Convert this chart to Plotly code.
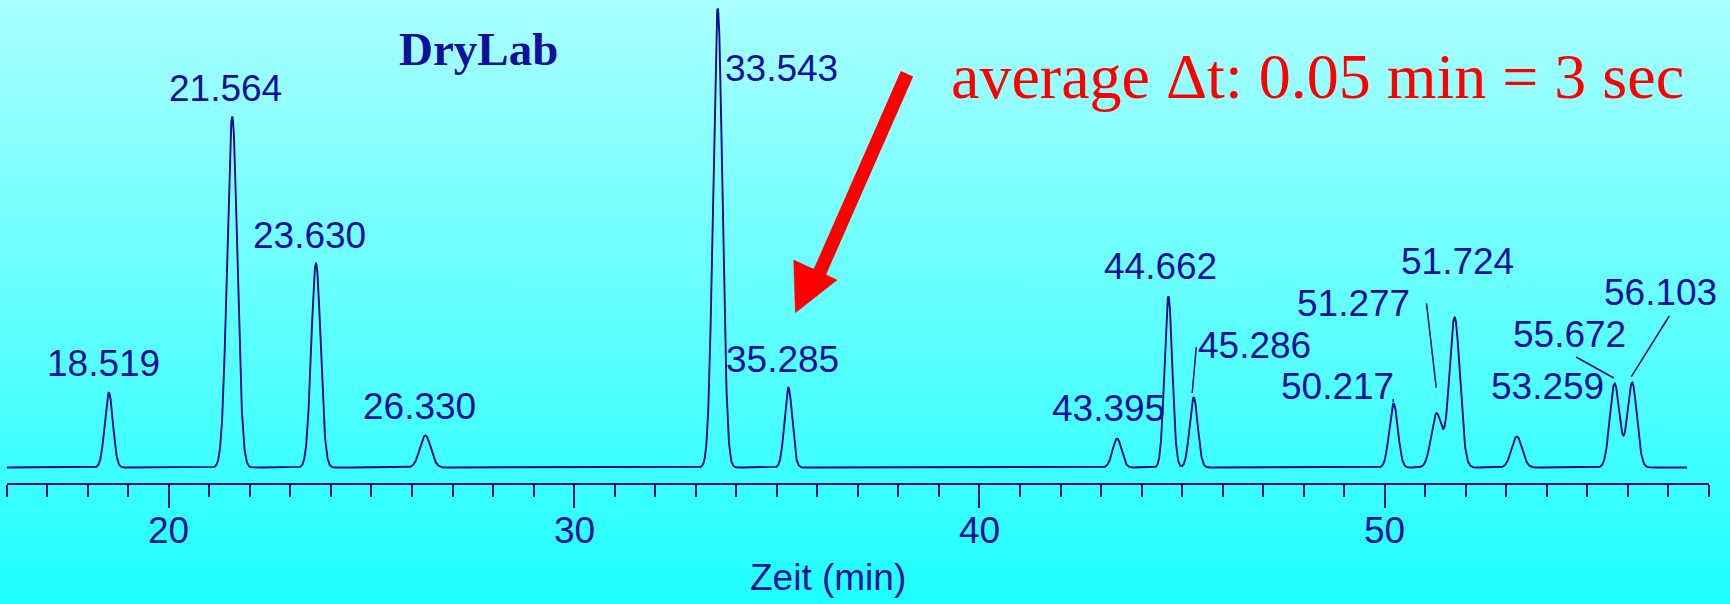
import base64
import numpy as np
import plotly.graph_objects as go

# Peak table of the simulated chromatogram (retention time in min, height, gaussian sigma in min)
retention_times = [18.519, 21.564, 23.630, 26.330, 33.543, 35.285, 43.395, 44.662,
                   45.286, 50.217, 51.277, 51.724, 53.259, 55.672, 56.103]
peak_heights = [75, 351, 204, 32, 459, 80, 29, 171, 70, 64, 54, 150, 31, 84, 85]
peak_sigmas = [0.10, 0.125, 0.115, 0.135, 0.115, 0.095, 0.11, 0.095, 0.10, 0.105,
               0.13, 0.13, 0.13, 0.118, 0.118]
peak_labels = ["18.519", "21.564", "23.630", "26.330", "33.543", "35.285", "43.395", "44.662",
               "45.286", "50.217", "51.277", "51.724", "53.259", "55.672", "56.103"]

run_start, run_end = 16.0, 57.46
axis_ticks = [20, 30, 40, 50]
axis_tick_text = ["20", "30", "40", "50"]

NAVY = "#10109a"
TRACE = "#0a0a92"
SANS = "Liberation Sans, Arial, sans-serif"
SERIF = "Liberation Serif, Times New Roman, serif"

# Detector signal: sum of the individual peaks
t = np.linspace(run_start, run_end, 8000)
signal = np.zeros_like(t)
for rt, h, s in zip(retention_times, peak_heights, peak_sigmas):
    signal += h * np.exp(-0.5 * ((t - rt) / s) ** 2)

fig = go.Figure()
fig.add_trace(go.Scatter(x=t, y=signal, mode="lines",
                         line=dict(color=TRACE, width=1.9), hoverinfo="skip",
                         showlegend=False))

# Label placement (label centre relative to each peak: dx in min, y in signal units)
label_offsets = {
    "18.519": (-0.13, 104), "21.564": (-0.16, 379), "23.630": (-0.17, 232.5),
    "26.330": (-0.15, 61), "33.543": (1.57, 399), "35.285": (-0.155, 108),
    "43.395": (-0.2, 59), "44.662": (-0.19, 201.5), "45.286": (1.49, 122),
    "50.217": (-1.39, 81.5), "51.277": (-2.04, 164.5), "51.724": (0.08, 206),
    "53.259": (0.75, 81.5), "55.672": (-1.12, 133), "56.103": (0.71, 175),
}
annotations = []
for lab, rt in zip(peak_labels, retention_times):
    dx, y = label_offsets[lab]
    annotations.append(dict(x=rt + dx, y=y, xref="x", yref="y", text=lab,
                            showarrow=False, xanchor="center", yanchor="middle",
                            font=dict(family=SANS, size=37, color=NAVY)))

# Time-axis numbers under the major ticks
for tv, tt in zip(axis_ticks, axis_tick_text):
    annotations.append(dict(x=tv, y=0.1225, xref="x", yref="paper", text=tt,
                            showarrow=False, xanchor="center", yanchor="middle",
                            font=dict(family=SANS, size=37, color=NAVY)))

annotations += [
    dict(x=0.2766, y=0.9187, xref="paper", yref="paper", text="<b>DryLab</b>",
         showarrow=False, xanchor="center", yanchor="middle",
         font=dict(family=SERIF, size=47, color=NAVY)),
    dict(x=0.7613, y=0.873, xref="paper", yref="paper",
         text="average \u0394t: 0.05 min = 3 sec",
         showarrow=False, xanchor="center", yanchor="middle",
         font=dict(family=SERIF, size=64, color="#ff0000")),
    dict(x=0.4786, y=0.0444, xref="paper", yref="paper", text="Zeit (min)",
         showarrow=False, xanchor="center", yanchor="middle",
         font=dict(family=SANS, size=37, color=NAVY)),
]

# Leader lines from crowded labels down to their peaks
leaders = [
    ((45.35, 120.5), (45.25, 74.5)),
    ((50.21, 68.5), (50.21, 65.5)),
    ((51.03, 164.2), (51.27, 79.8)),
    ((54.72, 110.5), (55.65, 89.5)),
    ((57.02, 151.5), (56.085, 90.8)),
]
shapes = []
for (x0, y0), (x1, y1) in leaders:
    shapes.append(dict(type="line", xref="x", yref="y", x0=x0, y0=y0, x1=x1, y1=y1,
                       line=dict(color=TRACE, width=1.5)))

# Red arrow pointing at the 35.285 peak
shapes.append(dict(type="line", xref="x", yref="y", x0=38.212, y0=393.8,
                   x1=36.03, y1=192.5, line=dict(color="#ff0000", width=13.5)))
shapes.append(dict(type="path", xref="x", yref="y",
                   path="M 35.417,207.5 L 35.459,154.8 L 36.487,187.5 Z",
                   fillcolor="#ff0000", line=dict(color="#ff0000", width=0.5)))

# Vertical cyan gradient for the page background
svg = ('<svg xmlns="http://www.w3.org/2000/svg" width="10" height="100" '
       'preserveAspectRatio="none"><defs><linearGradient id="g" x1="0" y1="0" '
       'x2="0" y2="1"><stop offset="0" stop-color="#aaffff"/>'
       '<stop offset="1" stop-color="#1effff"/></linearGradient></defs>'
       '<rect width="10" height="100" fill="url(#g)"/></svg>')
bg_uri = "data:image/svg+xml;base64," + base64.b64encode(svg.encode()).decode()

W, H = 1730, 604
fig.update_layout(
    width=W, height=H,
    margin=dict(l=0, r=0, t=0, b=0),
    paper_bgcolor="#55ffff",
    plot_bgcolor="rgba(0,0,0,0)",
    images=[dict(source=bg_uri, xref="paper", yref="paper", x=0, y=1,
                 sizex=1, sizey=1, sizing="stretch", layer="below")],
    annotations=annotations,
    shapes=shapes,
    showlegend=False,
    xaxis=dict(range=[16, 58], domain=[6.7 / W, 1709 / W],
               showgrid=False, zeroline=False, showticklabels=False,
               showline=True, linecolor=TRACE, linewidth=1.5,
               ticks="outside", tickvals=axis_ticks, ticklen=23, tickwidth=1.5,
               tickcolor=TRACE,
               minor=dict(tick0=16, dtick=1, ticks="outside", ticklen=12,
                          tickwidth=1.5, tickcolor=TRACE, showgrid=False)),
    yaxis=dict(range=[-15.5, 467.5], domain=[(H - 483) / H, 1], visible=False,
               fixedrange=True),
)

fig.write_html("out.html")
